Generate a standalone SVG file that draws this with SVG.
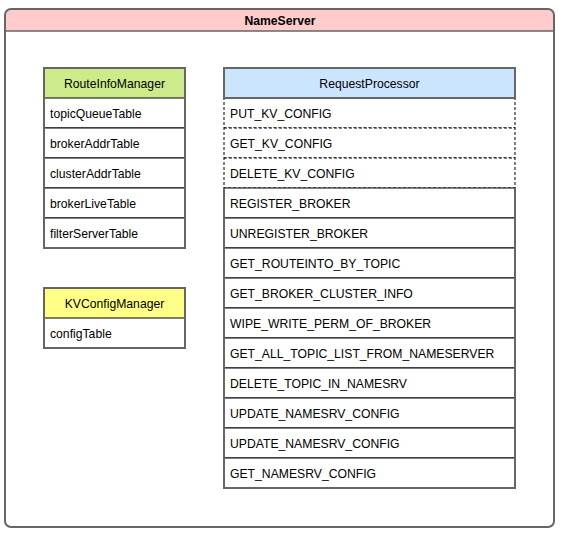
<svg xmlns="http://www.w3.org/2000/svg" width="564" height="535" viewBox="0 0 564 535">
<style>
text{font-family:"Liberation Sans",Arial,sans-serif;font-size:12.2px;fill:#000}
.t{text-anchor:middle}
.b{font-weight:bold}
.row{fill:#fff;stroke:#000;stroke-width:1}
.dash{fill:#fff;stroke:#000;stroke-width:1;stroke-dasharray:3 2}
.frame{fill:none;stroke:#666;stroke-width:2}
</style>
<rect width="564" height="535" fill="#fff"/>
<g id="NameServer">
<path d="M5,31 V15 Q5,9 11,9 H548 Q554,9 554,15 V31 Z" fill="#ffcccc"/>
<line x1="5" y1="31" x2="554" y2="31" stroke="#666" stroke-width="1.5"/>
<rect x="5" y="9" width="549" height="518" rx="6" ry="6" class="frame"/>
<text x="280" y="25" class="t b">NameServer</text>
</g>
<g id="RouteInfoManager">
<rect x="44" y="68" width="141" height="30" fill="#cdeb8b"/>
<rect x="44" y="98" width="141" height="30" class="row"/>
<rect x="44" y="128" width="141" height="30" class="row"/>
<rect x="44" y="158" width="141" height="30" class="row"/>
<rect x="44" y="188" width="141" height="30" class="row"/>
<rect x="44" y="218" width="141" height="30" class="row"/>
<rect x="44" y="68" width="141" height="180" class="frame"/>
<text x="114.5" y="88" class="t">RouteInfoManager</text>
<text x="50" y="118">topicQueueTable</text>
<text x="50" y="148">brokerAddrTable</text>
<text x="50" y="178">clusterAddrTable</text>
<text x="50" y="208">brokerLiveTable</text>
<text x="50" y="238">filterServerTable</text>
</g>
<g id="KVConfigManager">
<rect x="44" y="288" width="141" height="30" fill="#ffff88"/>
<rect x="44" y="318" width="141" height="30" class="row"/>
<rect x="44" y="288" width="141" height="60" class="frame"/>
<text x="114.5" y="308" class="t">KVConfigManager</text>
<text x="50" y="338">configTable</text>
</g>
<g id="RequestProcessor">
<rect x="224" y="68" width="291" height="30" fill="#cce5ff"/>
<rect x="224" y="98" width="291" height="30" class="dash"/>
<rect x="224" y="128" width="291" height="30" class="dash"/>
<rect x="224" y="158" width="291" height="30" class="dash"/>
<rect x="224" y="188" width="291" height="30" class="row"/>
<rect x="224" y="218" width="291" height="30" class="row"/>
<rect x="224" y="248" width="291" height="30" class="row"/>
<rect x="224" y="278" width="291" height="30" class="row"/>
<rect x="224" y="308" width="291" height="30" class="row"/>
<rect x="224" y="338" width="291" height="30" class="row"/>
<rect x="224" y="368" width="291" height="30" class="row"/>
<rect x="224" y="398" width="291" height="30" class="row"/>
<rect x="224" y="428" width="291" height="30" class="row"/>
<rect x="224" y="458" width="291" height="30" class="row"/>
<rect x="224" y="68" width="291" height="30" class="frame"/>
<line x1="224" y1="188" x2="224" y2="489" stroke="#666" stroke-width="2"/>
<line x1="515" y1="188" x2="515" y2="489" stroke="#666" stroke-width="2"/>
<line x1="223" y1="488" x2="516" y2="488" stroke="#666" stroke-width="2"/>
<text x="369.5" y="88" class="t">RequestProcessor</text>
<text x="230" y="118">PUT_KV_CONFIG</text>
<text x="230" y="148">GET_KV_CONFIG</text>
<text x="230" y="178">DELETE_KV_CONFIG</text>
<text x="230" y="208">REGISTER_BROKER</text>
<text x="230" y="238">UNREGISTER_BROKER</text>
<text x="230" y="268">GET_ROUTEINTO_BY_TOPIC</text>
<text x="230" y="298">GET_BROKER_CLUSTER_INFO</text>
<text x="230" y="328">WIPE_WRITE_PERM_OF_BROKER</text>
<text x="230" y="358">GET_ALL_TOPIC_LIST_FROM_NAMESERVER</text>
<text x="230" y="388">DELETE_TOPIC_IN_NAMESRV</text>
<text x="230" y="418">UPDATE_NAMESRV_CONFIG</text>
<text x="230" y="448">UPDATE_NAMESRV_CONFIG</text>
<text x="230" y="478">GET_NAMESRV_CONFIG</text>
</g>
<g id="connectors"></g>
</svg>
